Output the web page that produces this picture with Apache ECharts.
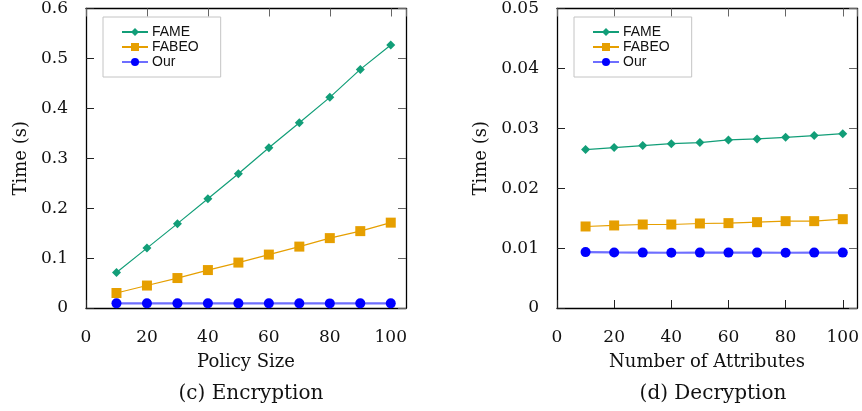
<!DOCTYPE html>
<html>
<head>
<meta charset="utf-8">
<script src="https://cdn.jsdelivr.net/npm/echarts@6/dist/echarts.min.js"></script>
<style>html,body{margin:0;padding:0;background:#fff}#c{width:862px;height:411px}</style>
</head>
<body>
<div id="c"></div>
<script>
const xValues = [10, 20, 30, 40, 50, 60, 70, 80, 90, 100];
const encFAME  = [0.071, 0.120, 0.169, 0.219, 0.269, 0.321, 0.371, 0.422, 0.478, 0.527];
const encFABEO = [0.030, 0.045, 0.060, 0.076, 0.091, 0.107, 0.123, 0.140, 0.154, 0.171];
const encOur   = [0.0093, 0.0093, 0.0093, 0.0093, 0.0093, 0.0093, 0.0093, 0.0092, 0.0093, 0.0093];
const decFAME  = [0.02645, 0.02678, 0.02711, 0.02744, 0.02761, 0.02806, 0.02822, 0.02850, 0.02878, 0.02911];
const decFABEO = [0.01361, 0.01378, 0.01394, 0.01394, 0.01411, 0.01417, 0.01433, 0.01450, 0.01450, 0.01483];
const decOur   = [0.00933, 0.00928, 0.00925, 0.00922, 0.00925, 0.00925, 0.00925, 0.00922, 0.00925, 0.00925];
const seriesNames = ['FAME', 'FABEO', 'Our'];
const xNames = ['Policy Size', 'Number of Attributes'];
const captions = ['(c) Encryption', '(d) Decryption'];

const serif = 'DejaVu Serif';
const sans = 'Liberation Sans';
const green = '#129e78', orange = '#e69f00', blue = '#0000ff', blueLine = '#6e6eff';

const grids = [
  {left: 86, top: 8, width: 320, height: 300},
  {left: 557, top: 8, width: 302, height: 300}
];
const yMax = [0.6, 0.05], yInt = [0.1, 0.01];

function zip(vals) { return xValues.map((x, i) => [x, vals[i]]); }

const xAxes = [], yAxes = [], series = [], legends = [], titles = [];
[0, 1].forEach(g => {
  const xBase = {
    type: 'value', gridIndex: g, min: 0, max: 105, interval: 20,
    axisLine: {show: true, onZero: false, lineStyle: {color: '#000', width: 1.3}},
    axisTick: {show: true, inside: true, length: 8, lineStyle: {color: '#222'}},
    splitLine: {show: false}
  };
  xAxes.push(Object.assign({}, xBase, {
    position: 'bottom',
    name: xNames[g], nameLocation: 'middle', nameGap: 45,
    nameTextStyle: {fontFamily: serif, fontSize: 18, color: '#111'},
    axisLabel: {show: true, margin: 21, fontFamily: serif, fontSize: 17, color: '#111', showMaxLabel: false}
  }));
  xAxes.push(Object.assign({}, xBase, {
    position: 'top', axisLabel: {show: false},
    axisTick: {show: true, inside: true, length: 8, lineStyle: {color: '#666'}}
  }));
  const yBase = {
    type: 'value', gridIndex: g, min: 0, max: yMax[g], interval: yInt[g],
    axisLine: {show: true, onZero: false, lineStyle: {color: '#000', width: 1.3}},
    axisTick: {show: true, inside: true, length: 8, lineStyle: {color: '#222'}},
    splitLine: {show: false}
  };
  yAxes.push(Object.assign({}, yBase, {
    position: 'left',
    name: 'Time (s)', nameLocation: 'middle', nameGap: g === 0 ? 56 : 67, nameRotate: 90,
    nameTextStyle: {fontFamily: serif, fontSize: 18, color: '#111'},
    axisLabel: {show: true, margin: 18, fontFamily: serif, fontSize: 17, color: '#111',
      formatter: v => String(+v.toFixed(3))}
  }));
  yAxes.push(Object.assign({}, yBase, {
    position: 'right', axisLabel: {show: false},
    axisTick: {show: true, inside: true, length: 8, lineStyle: {color: '#666'}}
  }));
  const data = g === 0 ? [encFAME, encFABEO, encOur] : [decFAME, decFABEO, decOur];
  const styles = [
    {symbol: 'diamond', symbolSize: 9, color: green, line: green, w: 1.2},
    {symbol: 'rect', symbolSize: 10, color: orange, line: orange, w: 1.2},
    {symbol: 'circle', symbolSize: 10, color: blue, line: blueLine, w: 2.2}
  ];
  seriesNames.forEach((n, i) => {
    series.push({
      name: n, type: 'line', xAxisIndex: g * 2, yAxisIndex: g * 2,
      data: zip(data[i]), symbol: styles[i].symbol, symbolSize: styles[i].symbolSize,
      showAllSymbol: true, animation: false, z: 3 - i + 2,
      itemStyle: {color: styles[i].color},
      lineStyle: {color: styles[i].line, width: styles[i].w}
    });
  });
  legends.push({
    data: seriesNames, orient: 'vertical',
    left: g === 0 ? 103 : 574, top: 17,
    padding: [8, 22, 8, 18], itemGap: 1, itemWidth: 26, itemHeight: 10,
    borderColor: '#c4c4c4', borderWidth: 1, backgroundColor: '#fff',
    textStyle: {fontFamily: sans, fontSize: 14, color: '#111', lineHeight: 14, padding: [0, 0, 0, -1]},
    selectedMode: false
  });
  titles.push({
    text: captions[g], left: grids[g].left + grids[g].width / 2, top: 379, textAlign: 'center',
    textStyle: {fontFamily: serif, fontSize: 20, fontWeight: 'normal', color: '#111'}
  });
});

const chart = echarts.init(document.getElementById('c'), null, {renderer: 'canvas'});
chart.setOption({
  animation: false,
  backgroundColor: '#fff',
  title: titles,
  grid: grids,
  xAxis: xAxes,
  yAxis: yAxes,
  legend: legends,
  series: series
});
</script>
</body>
</html>
